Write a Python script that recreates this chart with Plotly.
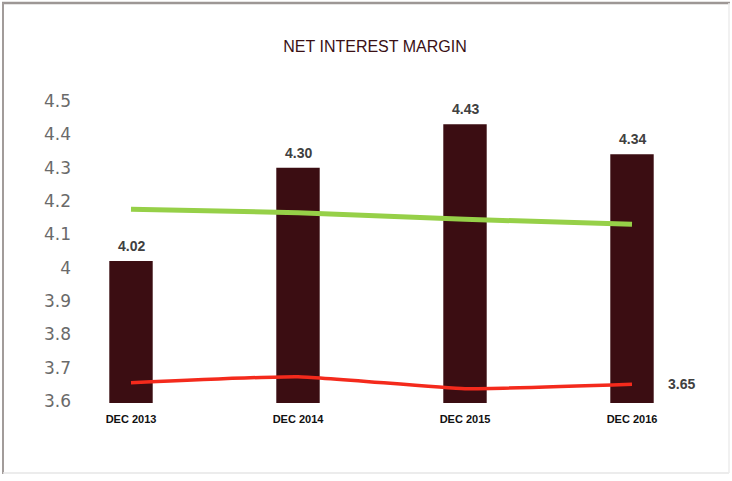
import plotly.graph_objects as go

categories = ["DEC 2013", "DEC 2014", "DEC 2015", "DEC 2016"]
nim_values = [4.02, 4.30, 4.43, 4.34]
green_values = [4.175, 4.165, 4.145, 4.13]
red_values = [3.655, 3.673, 3.637, 3.65]
y_ticks = [3.6, 3.7, 3.8, 3.9, 4.0, 4.1, 4.2, 4.3, 4.4, 4.5]
y_ticktext = ["3.6", "3.7", "3.8", "3.9", "4", "4.1", "4.2", "4.3", "4.4", "4.5"]

W, H = 732, 481
L, R, T, B = 85, 715, 101, 403
LABEL_FONT = dict(family="Liberation Sans Narrow, Liberation Sans, sans-serif", size=14,
                  color="#404040", weight="bold")

xs = list(range(len(categories)))
fig = go.Figure()
fig.add_trace(go.Bar(
    x=xs, y=nim_values,
    marker=dict(color="#3b0d12", line=dict(width=0)),
    width=0.26,
))
fig.add_trace(go.Scatter(
    x=xs, y=green_values, mode="lines",
    line=dict(color="#96d048", width=5),
))
fig.add_trace(go.Scatter(
    x=xs, y=red_values, mode="lines",
    line=dict(color="#f42a1c", width=3.5, shape="spline", smoothing=0.4),
))
for xi, v in zip(xs, nim_values):
    fig.add_annotation(x=xi, y=v, text=f"{v:.2f}", xanchor="center", yanchor="bottom",
                       yshift=5, showarrow=False, font=LABEL_FONT)
fig.add_annotation(
    x=xs[-1], y=red_values[-1], text=f"{red_values[-1]:.2f}",
    xanchor="left", yanchor="middle", xshift=34, showarrow=False, font=LABEL_FONT,
)

s = 167.0
r0 = -(131 - L) / s
r1 = r0 + (R - L) / s
ymin = 3.594
ymax = 4.5

def px(xp):
    return (xp - L) / (R - L)

def py(yp):
    return (B - yp) / (B - T)

# frame
fig.add_shape(type="line", xref="paper", yref="paper", x0=px(2), x1=px(730), y0=py(3), y1=py(3),
              line=dict(color="#9d9795", width=2.5))
fig.add_shape(type="line", xref="paper", yref="paper", x0=px(3), x1=px(3), y0=py(3), y1=py(474),
              line=dict(color="#a29c9a", width=2))
fig.add_shape(type="line", xref="paper", yref="paper", x0=px(3), x1=px(729), y0=py(473), y1=py(473),
              line=dict(color="#e6e6e6", width=1.5))
fig.add_shape(type="line", xref="paper", yref="paper", x0=px(729), x1=px(729), y0=py(3), y1=py(473),
              line=dict(color="#ececec", width=1.5))

fig.update_layout(
    width=W, height=H, autosize=False,
    margin=dict(l=L, r=W - R, t=T, b=H - B, pad=0),
    paper_bgcolor="white", plot_bgcolor="white",
    showlegend=False,
    title=dict(text="NET INTEREST MARGIN", x=375 / W, xref="container", xanchor="center",
               y=1 - 46 / H, yref="container", yanchor="middle",
               font=dict(family="Liberation Sans Narrow, Liberation Sans, sans-serif", size=16, color="#3a1015")),
    xaxis=dict(range=[r0, r1], tickvals=xs, ticktext=categories,
               showgrid=False, zeroline=False, showline=False, ticks="",
               ticklabelstandoff=8,
               tickfont=dict(family="Liberation Sans Narrow, Liberation Sans, sans-serif", size=11,
                             color="#111111", weight="bold")),
    yaxis=dict(range=[ymin, ymax], tickvals=y_ticks, ticktext=y_ticktext,
               showgrid=False, zeroline=False, showline=False, ticks="",
               ticklabelstandoff=13,
               tickfont=dict(family="DejaVu Sans", size=17, color="#6a6a6a")),
)

fig.write_html("out.html", config={"displayModeBar": False},
               post_script="document.body.style.margin='0';document.body.style.overflow='hidden';")
